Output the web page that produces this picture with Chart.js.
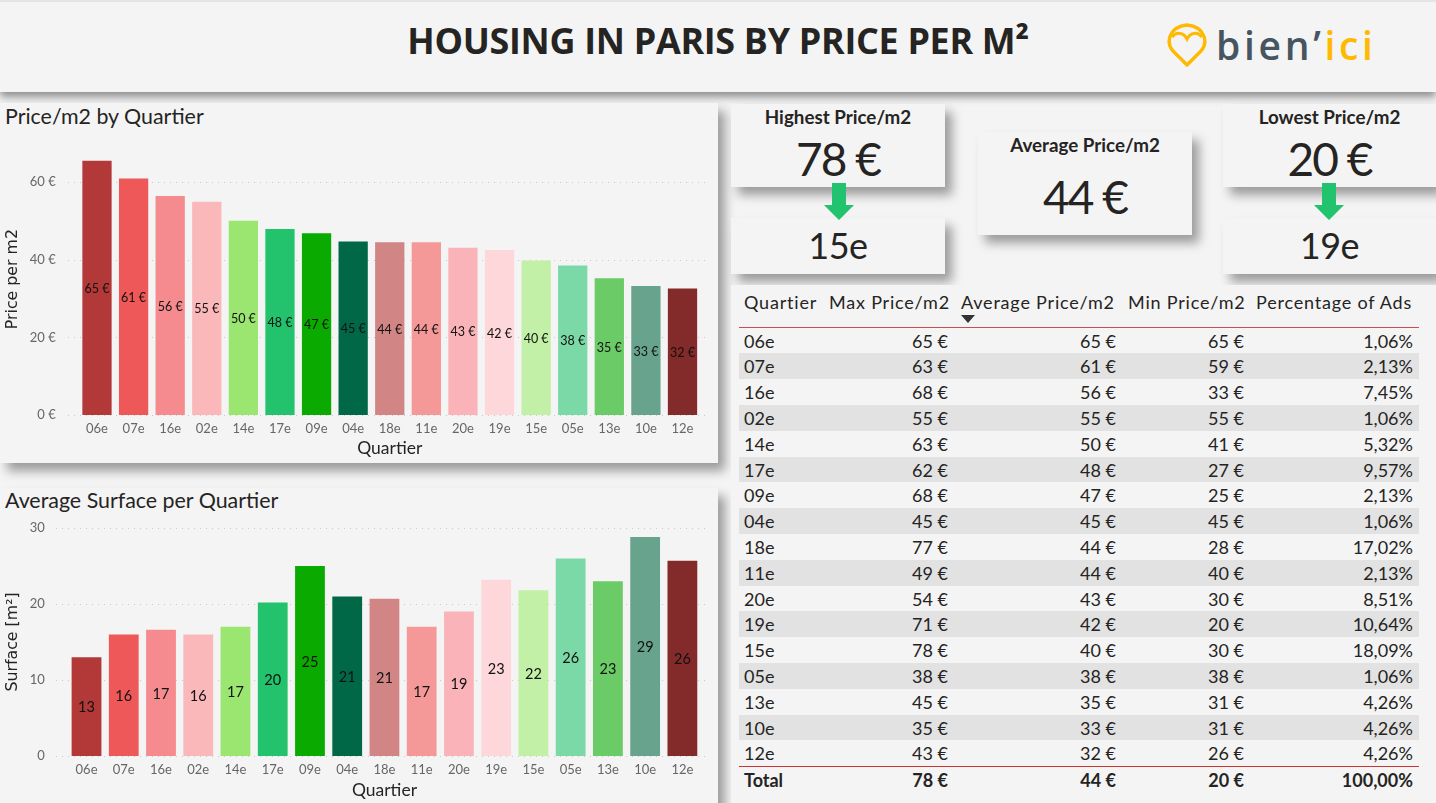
<!DOCTYPE html>
<html><head><meta charset="utf-8">
<script src="https://cdn.jsdelivr.net/npm/chart.js@4/dist/chart.umd.min.js"></script>
<style>
html,body{margin:0;padding:0;width:1436px;height:803px;overflow:hidden;background:#f4f4f4;font-family:"Open Sans",sans-serif;color:#252423}
.abs{position:absolute}
.panel{position:absolute;background:#f4f4f4;box-shadow:7px 8px 10px rgba(0,0,0,.36)}
#head{left:0;top:0;width:1436px;height:92px;background:#f4f4f4;box-shadow:0 5px 8px rgba(0,0,0,.42);border-top:2px solid #e4e4e4;box-sizing:border-box}
#title{left:0;width:1436px;top:19px;text-align:center;font-weight:700;font-size:35.9px;line-height:44px;letter-spacing:-.3px}
.ptitle{position:absolute;left:5px;font:21.4px Lato,sans-serif;color:#252423}
.card{text-align:center;font-family:Lato,sans-serif}
.card .h{position:absolute;left:0;right:0;font-weight:700;font-size:18.8px}
.card .v{position:absolute;left:0;right:0;font-size:46px;line-height:50px;letter-spacing:-2px}
canvas{position:absolute;display:block}
#tbl{left:731px;top:285px;width:705px;height:518px;background:#f4f4f4;font:18px Lato,sans-serif;color:#252423}
.row{position:absolute;left:8px;width:680px;height:25.79px;line-height:26.8px}
.c{position:absolute;top:0;white-space:nowrap}
</style></head><body>
<div class="panel" id="head"></div>
<div class="abs" id="title">HOUSING IN PARIS BY PRICE PER M²</div>
<svg class="abs" style="left:1167px;top:22px" width="40" height="46" viewBox="0 0 40 46">
<path d="M20 43 L6 29 C-1 21 1 5 20 3 C39 5 41 21 34 29 Z" fill="none" stroke="#ffb900" stroke-width="3.4" stroke-linejoin="round"/>
<path d="M5 15 C10 9 17 11 20 17 C23 11 30 9 35 15" fill="none" stroke="#ffb900" stroke-width="3"/>
</svg>
<div class="abs" style="left:1216px;top:20px;font:600 39px/50px 'Open Sans',sans-serif;letter-spacing:3.7px;color:#46555f;white-space:nowrap">bien’<span style="color:#ffb900">ici</span></div>

<div class="panel" style="left:0;top:103px;width:718px;height:360px"></div>
<div class="ptitle" style="top:103px">Price/m2 by Quartier</div>
<div class="panel" style="left:0;top:488px;width:718px;height:320px"></div>
<div class="ptitle" style="top:487px">Average Surface per Quartier</div>
<canvas id="c1" style="left:0;top:125px"></canvas>
<canvas id="c2" style="left:0;top:510px"></canvas>

<div class="panel card" style="left:731px;top:104px;width:214px;height:83px"><div class="h" style="top:1px">Highest Price/m2</div><div class="v" style="top:30px" id="kMax"></div></div>
<div class="panel card" style="left:731px;top:218px;width:214px;height:56px"><div class="v" style="top:2px;font-size:36px;letter-spacing:-.5px" id="kMaxQ"></div></div>
<div class="panel card" style="left:978px;top:132px;width:214px;height:103px"><div class="h" style="top:1px">Average Price/m2</div><div class="v" style="top:40px" id="kAvg"></div></div>
<div class="panel card" style="left:1223px;top:104px;width:213px;height:83px"><div class="h" style="top:1px">Lowest Price/m2</div><div class="v" style="top:30px" id="kMin"></div></div>
<div class="panel card" style="left:1223px;top:218px;width:213px;height:56px"><div class="v" style="top:2px;font-size:36px;letter-spacing:-.5px" id="kMinQ"></div></div>
<svg class="abs" style="left:824px;top:183px" width="30" height="38"><path d="M8 0H22V22H30L15 37L0 22H8Z" fill="#22c36e"/></svg>
<svg class="abs" style="left:1314px;top:183px" width="30" height="38"><path d="M8 0H22V22H30L15 37L0 22H8Z" fill="#22c36e"/></svg>

<div class="abs" id="tbl"></div>

<script>
const quartiers=["06e","07e","16e","02e","14e","17e","09e","04e","18e","11e","20e","19e","15e","05e","13e","10e","12e"];
const priceAvg=[65.5,60.9,56.4,54.9,50,47.9,46.8,44.7,44.5,44.5,43.1,42.5,39.8,38.5,35.2,33.2,32.6];
const surface=[13,16,16.6,16,17,20.2,25,21,20.7,17,19,23.2,21.8,26,23,28.8,25.7];
const barColors=["#b33939","#ee5858","#f58b8e","#fab8bb","#9be571","#23c36e","#0baa00","#006846","#d28585","#f59898","#fab4b9","#fdd7d9","#c2f0a6","#7bd9a8","#6bcb66","#68a38e","#832a2a"];
const colMax=[65,63,68,55,63,62,68,45,77,49,54,71,78,38,45,35,43];
const colAvg=[65,61,56,55,50,48,47,45,44,44,43,42,40,38,35,33,32];
const colMin=[65,59,33,55,41,27,25,45,28,40,30,20,30,38,31,31,26];
const colPct=["1,06%","2,13%","7,45%","1,06%","5,32%","9,57%","2,13%","1,06%","17,02%","2,13%","8,51%","10,64%","18,09%","1,06%","4,26%","4,26%","4,26%"];
const headers=["Quartier","Max Price/m2","Average Price/m2","Min Price/m2","Percentage of Ads"];
const totals=["Total","78 €","44 €","20 €","100,00%"];
const priceTicks=[0,20,40,60];
const surfaceTicks=[0,10,20,30];
const FONT="Lato, sans-serif";

document.getElementById('kMax').textContent="78 €";
document.getElementById('kMaxQ').textContent="15e";
document.getElementById('kAvg').textContent="44 €";
document.getElementById('kMin').textContent="20 €";
document.getElementById('kMinQ').textContent="19e";

// Dotted horizontal guides, wider than the bar band, placed by the value scale.
function guides(x0,x1){return {id:'guides',beforeDatasetsDraw(ch){
  const c=ch.ctx,y=ch.scales.y;c.save();c.strokeStyle='#c8c8c8';c.lineWidth=1;c.setLineDash([1,5]);
  y.ticks.forEach(t=>{const p=Math.round(y.getPixelForValue(t.value))+.5;c.beginPath();c.moveTo(x0,p);c.lineTo(x1,p);c.stroke();});
  c.restore();}};}
// Value labels at the middle of each bar.
function barLabels(labels,size){return {id:'barLabels',afterDatasetsDraw(ch){
  const c=ch.ctx;c.save();c.fillStyle='#111';c.font=size+'px '+FONT;c.textAlign='center';c.textBaseline='middle';
  ch.getDatasetMeta(0).data.forEach((b,i)=>c.fillText(labels[i],b.x,(b.y+b.base)/2+1));
  c.restore();}};}

function make(id,w,h,data,labels,lblSize,opts){
  const cv=document.getElementById(id);cv.width=w;cv.height=h;cv.style.width=w+'px';cv.style.height=h+'px';
  return new Chart(cv,{type:'bar',
    data:{labels:quartiers,datasets:[{data,backgroundColor:barColors,barPercentage:.8,categoryPercentage:1}]},
    options:{responsive:false,animation:false,devicePixelRatio:1,
      layout:{padding:{top:opts.top,right:opts.right,left:0,bottom:0}},
      plugins:{legend:{display:false},tooltip:{enabled:false}},
      scales:{
        x:{grid:{display:false},border:{display:false},
          afterFit(s){s.height=opts.bottom;s.paddingLeft=0;s.paddingRight=0;},
          ticks:{color:'#666',font:{family:FONT,size:13},maxRotation:0,autoSkip:false,padding:-2},
          title:{display:true,text:'Quartier',color:'#252423',font:{family:FONT,size:17.5},padding:{top:1,bottom:opts.tb}}},
        y:{min:0,max:opts.max,grid:{display:false},border:{display:false},
          afterFit(s){s.width=opts.left;s.paddingTop=0;s.paddingBottom=0;},
          afterBuildTicks(s){s.ticks=opts.ticks.map(v=>({value:v}));},
          ticks:{color:'#666',font:{family:FONT,size:13},padding:15,callback:opts.fmt},
          title:{display:true,text:opts.ytitle,color:'#252423',font:{family:'DejaVu Sans',size:15.8},padding:{top:3.4,bottom:0}}}
      }},
    plugins:[guides(opts.g0,opts.g1),barLabels(labels,lblSize)]});
}
make('c1',712,335,priceAvg,colAvg.map(v=>v+' €'),12.5,{max:70,top:18.2,right:11.2,left:78.7,bottom:45,tb:1.5,ticks:priceTicks,fmt:v=>v+' €',ytitle:'Price per m2',g0:68,g1:710});
make('c2',712,293,surface,surface.map(v=>Math.round(v)),14.5,{max:30,top:18,right:11,left:67.9,bottom:47,tb:2.5,ticks:surfaceTicks,fmt:v=>v,ytitle:'Surface [m²]',g0:56,g1:710});

// Table
const tbl=document.getElementById('tbl');
const R=[null,209,377,505,674];
function cell(row,txt,i,bold){const d=document.createElement('div');d.className='c';d.textContent=txt;
  if(i===0)d.style.left='5px';else d.style.right=(680-R[i])+'px';if(bold)d.style.fontWeight='700';row.appendChild(d);}
const hx=[13,98,230,397,525];
headers.forEach((h,i)=>{const d=document.createElement('div');d.className='abs';d.style.cssText=`left:${hx[i]}px;top:6px;white-space:nowrap;letter-spacing:.8px`;d.textContent=h;tbl.appendChild(d);});
tbl.insertAdjacentHTML('beforeend','<svg class="abs" style="left:230px;top:30px" width="14" height="8"><path d="M0 0H14L7 8Z" fill="#333"/></svg>');
tbl.insertAdjacentHTML('beforeend','<div class="abs" style="left:8px;top:42px;width:680px;height:1px;background:#c94f4f"></div>');
quartiers.forEach((q,i)=>{const r=document.createElement('div');r.className='row';r.style.top=(42.7+i*25.79)+'px';
  if(i%2)r.style.background='#e2e2e2';
  cell(r,q,0);cell(r,colMax[i]+' €',1);cell(r,colAvg[i]+' €',2);cell(r,colMin[i]+' €',3);cell(r,colPct[i],4);tbl.appendChild(r);});
tbl.insertAdjacentHTML('beforeend','<div class="abs" style="left:8px;top:481px;width:680px;height:1px;background:#c33"></div>');
const tr=document.createElement('div');tr.className='row';tr.style.top='482px';totals.forEach((t,i)=>cell(tr,t,i,true));tbl.appendChild(tr);
</script>
</body></html>
